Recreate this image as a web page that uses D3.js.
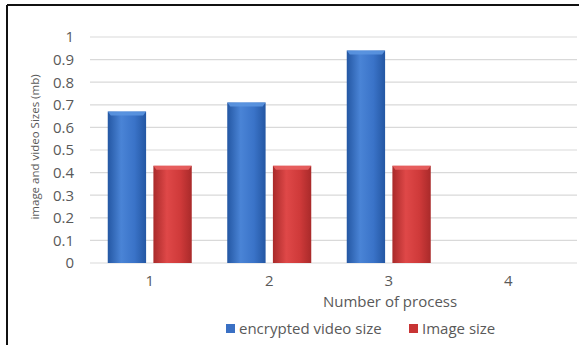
<!DOCTYPE html>
<html><head><meta charset="utf-8">
<script src="https://cdn.jsdelivr.net/npm/d3@7"></script>
<style>html,body{margin:0;padding:0;background:#fff;}svg{display:block;}</style>
</head><body>
<svg id="c" width="579" height="345"></svg>
<script>
const categories = ["1","2","3","4"];
const seriesNames = ["encrypted video size","Image size"];
const encryptedVideo = [0.67, 0.71, 0.94, null];
const imageSize = [0.43, 0.43, 0.43, null];
const yTicks = [0,0.1,0.2,0.3,0.4,0.5,0.6,0.7,0.8,0.9,1];
const xTitle = "Number of process";
const yTitle = "image and video Sizes (mb)";

const svg = d3.select("#c");
const font = "'Open Sans', sans-serif";
const plotLeft = 90, plotRight = 568, plotTop = 37, plotBottom = 263;
const fs = 15;

const defs = svg.append("defs");
function grad(id, edge, mid, hi){
  const g = defs.append("linearGradient").attr("id", id).attr("x1","0").attr("x2","1").attr("y1","0").attr("y2","0");
  g.append("stop").attr("offset","0%").attr("stop-color", edge);
  g.append("stop").attr("offset","35%").attr("stop-color", hi);
  g.append("stop").attr("offset","70%").attr("stop-color", mid);
  g.append("stop").attr("offset","100%").attr("stop-color", edge);
}
grad("gb", "#2457a3", "#3a73c8", "#4a84d6");
grad("gr", "#a92a2a", "#cf3a3a", "#df4848");

// border (top & left)
svg.append("line").attr("x1",7).attr("x2",579).attr("y1",5).attr("y2",5).attr("stroke","#111").attr("stroke-width",2);
svg.append("line").attr("x1",7).attr("x2",7).attr("y1",5).attr("y2",345).attr("stroke","#111").attr("stroke-width",2);

const x = d3.scaleBand().domain(categories).range([plotLeft, plotRight]);
const y = d3.scaleLinear().domain([0,1]).range([plotBottom, plotTop]);
const x1 = d3.scaleBand().domain(seriesNames).range([0, 84]).paddingInner(0.16);

// gridlines
svg.append("g").selectAll("line").data(yTicks).join("line")
  .attr("x1", plotLeft).attr("x2", 577)
  .attr("y1", d=>y(d)).attr("y2", d=>y(d))
  .attr("stroke","#d9d9d9").attr("stroke-width",1.2);

// y axis labels
const yAxis = svg.append("g").attr("transform",`translate(${plotLeft},0)`)
  .call(d3.axisLeft(y).tickValues(yTicks).tickSize(0).tickPadding(16).tickFormat(d=>d3.format("~g")(d)));
yAxis.select(".domain").remove();
yAxis.selectAll("text").attr("font-family",font).attr("font-size",fs).attr("fill","#595959");

// x axis labels
const xAxis = svg.append("g").attr("transform",`translate(0,${plotBottom})`)
  .call(d3.axisBottom(x).tickSize(0).tickPadding(12));
xAxis.select(".domain").remove();
xAxis.selectAll("text").attr("font-family",font).attr("font-size",fs).attr("fill","#595959");

const data = categories.map((c,i)=>({c, vals:[
  {s:seriesNames[0], v:encryptedVideo[i], g:"url(#gb)", hl:"#5b95e0"},
  {s:seriesNames[1], v:imageSize[i], g:"url(#gr)", hl:"#e86060"}]}));

const groups = svg.append("g").selectAll("g").data(data).join("g")
  .attr("transform", d=>`translate(${x(d.c)+x.bandwidth()/2-42},0)`);
const bars = groups.selectAll("g").data(d=>d.vals.filter(v=>v.v!=null)).join("g");
bars.append("rect")
  .attr("x", d=>x1(d.s)).attr("width", x1.bandwidth())
  .attr("y", d=>y(d.v)).attr("height", d=>y(0)-y(d.v))
  .attr("fill", d=>d.g);
bars.append("path")
  .attr("d", d=>{const x0=x1(d.s), w=x1.bandwidth(), yy=y(d.v);
    return `M${x0},${yy}L${x0+w},${yy}L${x0+w-3},${yy+4}L${x0+3},${yy+4}Z`;})
  .attr("fill", d=>d.hl).attr("opacity",0.9);

// axis titles
svg.append("text").attr("x", 390).attr("y", 307).attr("text-anchor","middle")
  .attr("font-family",font).attr("font-size",fs).attr("fill","#595959").text(xTitle);
svg.append("text").attr("transform","translate(39,147) rotate(-90)").attr("text-anchor","middle")
  .attr("font-family",font).attr("font-size",11.5).attr("fill","#595959").text(yTitle);

// legend
const legend = svg.append("g");
const lg = [{n:seriesNames[0], c:"#3a70c4", x:226},{n:seriesNames[1], c:"#c83434", x:409}];
legend.selectAll("rect").data(lg).join("rect")
  .attr("x", d=>d.x).attr("y", 324).attr("width", 9).attr("height", 9).attr("fill", d=>d.c);
legend.selectAll("text").data(lg).join("text")
  .attr("x", d=>d.x+13).attr("y", 334)
  .attr("font-family",font).attr("font-size",fs).attr("fill","#595959").text(d=>d.n);
</script>
</body></html>
